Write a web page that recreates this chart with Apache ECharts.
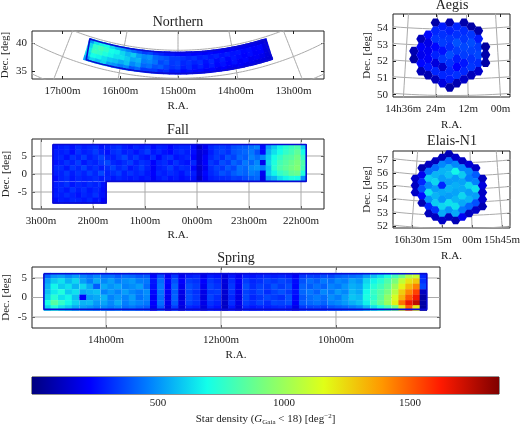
<!DOCTYPE html>
<html>
<head>
<meta charset="utf-8">
<script src="https://cdn.jsdelivr.net/npm/echarts@6/dist/echarts.min.js"></script>
<style>
  html, body { margin: 0; padding: 0; background: #fff; }
  #main { width: 520px; height: 424px; filter: blur(0.4px); }
</style>
</head>
<body>
<div id="main"></div>
<script>
var jetColors = ['#00007f', '#0000ff', '#007fff', '#13ffe9', '#7cff79', '#e0ff17', '#ff9700', '#ff1a00', '#7f0000'];

// Northern: one list per Dec row, values in the order of northRa
var northRa = [16.6,16.5,16.4,16.3,16.2,16.1,16.0,15.9,15.8,15.7,15.6,15.5,15.4,15.3,15.2,15.1,15.0,14.9,14.8,14.7,14.6,14.5,14.4,14.3,14.2,14.1,14.0,13.9,13.8,13.7,13.6,13.5,13.4];
var northDec = [44.3, 43.5, 42.7, 41.9, 41.1];
var northRows = [
  [500,640,680,700,620,560,520,470,420,380,340,360,310,290,260,270,250,240,250,230,240,220,240,220,230,210,230,200,210,200,200,180,170],
  [620,760,800,760,700,680,620,560,600,520,480,500,420,400,380,340,340,320,300,320,280,300,270,290,260,280,260,270,240,250,230,240,190],
  [660,780,760,720,680,640,640,600,540,560,460,480,440,360,390,330,350,300,320,290,310,260,300,250,280,240,270,250,230,250,220,230,180],
  [620,700,680,640,600,580,540,580,480,520,420,440,380,400,350,320,340,280,310,260,290,250,280,240,260,230,260,220,240,210,220,200,170],
  [520,620,580,620,520,500,450,480,380,420,340,340,340,290,310,270,280,240,260,240,250,220,240,210,230,210,210,220,200,200,180,180,160]
];
var northEdgeRa = [13.35, 16.65];
var northEdgeDec = [40.85, 44.6];

// Fall upper strip
var fallRa = [2.72,2.61,2.50,2.39,2.28,2.17,2.06,1.95,1.84,1.72,1.61,1.50,1.39,1.28,1.17,1.06,0.95,0.84,0.73,0.62,0.51,0.40,0.29,0.18,0.06,-0.05,-0.16,-0.27,-0.38,-0.49,-0.60,-0.71,-0.82,-0.93,-1.05,-1.16,-1.27,-1.38,-1.49,-1.60,-1.71,-1.82,-1.93,-2.05];
var fallDec = [7.5, 6.03, 4.56, 3.09, 1.62, 0.15, -1.32];
var fallRows = [
  [260,280,300,260,310,280,300,320,270,290,300,320,280,260,300,280,310,250,290,280,240,280,300,300,250,130,210,300,330,340,320,370,390,400,440,470,250,520,600,680,740,780,820,620],
  [280,280,300,250,320,280,300,340,290,260,310,330,280,300,260,300,340,270,300,260,240,290,310,280,250,160,190,280,330,350,320,380,400,420,450,380,240,560,640,700,760,800,860,700],
  [280,300,260,320,290,340,280,310,350,300,280,320,360,290,330,280,260,310,240,300,320,260,280,300,230,150,220,300,340,310,380,350,420,400,470,430,480,600,700,760,820,840,900,760],
  [260,280,320,290,340,270,310,290,330,360,300,280,310,340,280,320,300,230,290,310,270,320,280,260,300,160,230,330,300,370,340,410,380,450,420,480,200,620,720,800,840,880,920,820],
  [300,310,270,330,300,350,290,320,280,310,350,300,330,270,300,340,290,220,280,300,340,280,310,300,240,140,210,310,350,330,390,360,440,420,480,500,460,580,740,820,860,900,940,800],
  [280,290,330,280,320,290,340,300,360,290,310,340,280,320,290,310,270,230,300,280,310,290,260,310,280,150,240,300,330,380,350,400,430,410,460,440,210,600,680,760,800,860,880,720],
  [250,290,310,270,300,280,290,310,280,300,270,300,280,270,290,260,280,220,270,300,260,280,250,270,260,120,220,280,300,310,320,350,340,370,400,420,190,520,560,640,680,720,700,500]
];
// Fall lower block
var fallLowRa = [2.72,2.61,2.50,2.39,2.28,2.17,2.06,1.95,1.84,1.79];
var fallLowDec = [-3.0, -4.5, -6.0, -7.4];
var fallLowRows = [
  [280,290,320,270,300,280,310,290,320,260],
  [270,300,270,320,280,310,270,300,280,250],
  [280,280,310,290,260,300,280,320,270,260],
  [250,280,270,300,290,270,300,260,280,230]
];
var fallEdgeRa = [2.77, -2.1, -2.1, 1.75, 1.75, 2.77, 2.77];
var fallEdgeDec = [8.2, 8.2, -2.05, -2.05, -8.05, -8.05, 8.2];

// Spring
var springRa = [15.02,14.90,14.77,14.65,14.53,14.40,14.28,14.16,14.03,13.91,13.79,13.66,13.54,13.42,13.29,13.17,13.05,12.92,12.80,12.68,12.55,12.43,12.30,12.18,12.06,11.93,11.81,11.69,11.56,11.44,11.32,11.19,11.07,10.95,10.82,10.70,10.58,10.45,10.33,10.21,10.08,9.96,9.84,9.71,9.59,9.47,9.34,9.22,9.10,8.97,8.85,8.73,8.60,8.48];
var springDec = [5.6, 4.2, 2.8, 1.4, 0, -1.4, -2.7];
var springRows = [
  [420,500,520,480,520,470,440,480,430,440,400,430,420,390,400,240,370,220,330,210,280,300,200,280,260,170,270,210,280,260,290,300,280,300,280,220,330,350,340,370,360,400,420,430,450,520,580,640,720,800,900,1050,1100,300],
  [520,600,640,560,620,520,460,540,480,520,460,490,510,460,450,270,430,240,380,230,340,320,230,330,300,170,310,220,340,300,320,350,330,360,340,250,380,430,400,450,430,480,460,530,500,620,680,740,820,920,1080,1220,1280,320],
  [560,680,600,640,560,620,540,400,540,500,530,470,490,520,430,260,450,230,410,210,370,340,210,350,320,160,330,210,370,310,350,330,380,340,370,240,410,400,440,410,470,450,500,550,530,650,730,790,870,1000,1180,1320,1430,360],
  [580,660,720,600,640,540,560,580,470,510,470,520,480,450,490,240,440,220,400,190,360,320,190,330,340,150,320,200,350,320,360,310,350,380,340,260,420,450,410,480,450,510,480,570,540,690,770,830,910,1060,1270,1420,1550,120],
  [620,740,640,680,580,230,520,540,560,470,510,470,520,440,480,220,430,210,410,180,370,330,180,350,310,140,300,190,360,300,330,360,340,320,380,240,390,430,460,430,490,460,520,590,570,710,750,850,970,1130,1330,1510,1640,70],
  [700,840,760,680,610,560,570,510,530,480,540,460,500,470,450,230,430,200,390,190,350,320,190,320,290,130,310,190,340,310,350,310,360,350,370,220,400,420,440,410,460,480,510,550,580,670,780,870,990,1190,1460,1650,1740,70],
  [620,720,640,600,540,520,500,470,480,450,480,430,450,420,400,210,390,180,340,170,300,280,170,290,260,120,270,170,300,270,290,280,300,310,290,190,330,350,360,340,380,400,420,450,480,560,640,720,800,900,1200,1500,1200,60]
];
var springEdgeRa = [15.08, 8.42, 8.42, 15.08, 15.08];
var springEdgeDec = [6.1, 6.1, -3.05, -3.05, 6.1];

// Aegis: hexagons by column, from the top Dec of each column
var aegisRa = [14.535,14.491,14.447,14.402,14.358,14.314,14.270,14.226,14.181,14.137,14.093];
var aegisTop = [52.63,53.36,53.61,54.34,54.10,54.34,54.10,54.34,54.10,53.85,52.89];
var aegisCols = [
  [90,70],
  [110,220,200,240,100],
  [240,190,210,220,270,90],
  [70,300,330,240,290,170,300,110],
  [280,320,340,260,330,140,300,170],
  [80,290,330,310,370,320,300,280,70],
  [300,320,380,340,280,230,320,90],
  [80,310,330,360,340,270,300,130],
  [70,330,370,350,320,330,110],
  [80,280,340,360,310,140],
  [60,80,70]
];

// Elais-N1
var elaisRa = [16.472,16.416,16.360,16.304,16.248,16.192,16.136,16.080,16.024,15.968,15.912];
var elaisTop = [55.60,56.39,56.66,56.92,57.19,57.45,57.19,56.92,56.66,56.39,55.60];
var elaisCols = [
  [130,120,130],
  [90,200,300,380,250,100],
  [120,430,600,480,640,500,300,110],
  [110,430,560,620,520,560,600,330,120],
  [110,480,560,520,300,540,500,620,540,130],
  [100,430,560,580,520,560,520,640,500,120],
  [140,480,680,520,550,530,560,640,540,100],
  [120,480,600,530,540,620,540,450,210],
  [160,480,460,620,520,560,420,120],
  [130,400,470,640,520,380,130],
  [120,170,130,140,100]
];

// tick labels
var northTicks = [17, 16, 15, 14, 13];
var fallTicks = [3, 2, 1, 0, -1, -2];
var fallTickLabels = ['3h00m', '2h00m', '1h00m', '0h00m', '23h00m', '22h00m'];
var springTicks = [14, 12, 10];
var aegisTicks = [14.6, 14.4, 14.2, 14.0];
var aegisTickLabels = ['14h36m', '24m', '12m', '00m'];
var elaisTicks = [16.5, 16.25, 16, 15.75];
var elaisTickLabels = ['16h30m', '15m', '00m', '15h45m'];
var colorTicks = [500, 1000, 1500];

var FONT = '"Liberation Serif", serif';
var TXT = '#222';
var EDGE = '#0a0ad2';
var HEX = 'path://M0 50 L25 6.7 L75 6.7 L100 50 L75 93.3 L25 93.3 Z';

// curved sky grid for the three panels drawn in a conic projection
var northProj = { ra0: 15, dec0: 40, r0: 56.8, k: 10.65, dpx: 5.6, hpx: 57.75, apex: 90.5 };
var aegisProj = { ra0: 14.3, dec0: 50, r0: 48.4, k: 11.5, dpx: 16.6, hpx: 162, apex: 98.35 };
var elaisProj = { ra0: 16.125, dec0: 52, r0: 44, k: 11.9, dpx: 13.2, hpx: 120, apex: 95.8 };

function project(p, ra, dec) {
  var r = p.r0 + p.dec0 - dec;
  var t = (ra - p.ra0) * p.k * Math.PI / 180;
  return [p.ra0 + r * p.dpx * Math.sin(t) / p.hpx, p.apex - r * Math.cos(t)];
}

var grids = [], xAxes = [], yAxes = [], series = [], cellSeries = [];

function label(list, names) {
  return function (v) {
    var i = list.indexOf(v);
    return names ? names[i] : v + 'h00m';
  };
}

function addPanel(box, xr, yr, xt, yt, fmt, decGap, raGap) {
  var idx = grids.length;
  grids.push({ left: box[0], top: box[1], width: box[2], height: box[3], show: true, borderColor: '#222', borderWidth: 1, backgroundColor: 'transparent', outerBoundsMode: 'none' });
  var ax = { type: 'value', gridIndex: idx, axisLine: { show: false, onZero: false }, splitLine: { show: false } };
  var tick = function (list) { return { inside: true, length: 3, customValues: list, lineStyle: { color: '#222' } }; };
  xAxes.push(Object.assign({}, ax, {
    position: 'bottom', inverse: true, min: xr[0], max: xr[1], name: 'R.A.', nameLocation: 'middle', nameGap: raGap,
    nameTextStyle: { fontFamily: FONT, fontSize: 11, color: TXT },
    axisTick: tick(xt),
    axisLabel: { customValues: xt, formatter: fmt, fontFamily: FONT, fontSize: 11, color: TXT, margin: 7, hideOverlap: false }
  }));
  xAxes.push(Object.assign({}, ax, { position: 'top', inverse: true, min: xr[0], max: xr[1], axisTick: tick(xt), axisLabel: { show: false } }));
  yAxes.push(Object.assign({}, ax, {
    position: 'left', min: yr[0], max: yr[1], name: 'Dec. [deg]', nameLocation: 'middle', nameGap: decGap, nameMoveOverlap: false,
    nameTextStyle: { fontFamily: FONT, fontSize: 11, color: TXT },
    axisTick: tick(yt),
    axisLabel: { customValues: yt, fontFamily: FONT, fontSize: 11, color: TXT, margin: 5 }
  }));
  yAxes.push(Object.assign({}, ax, { position: 'right', min: yr[0], max: yr[1], axisTick: tick(yt), axisLabel: { show: false } }));
  return idx * 2;
}

function addCells(axis, data, symbol, size, rotate) {
  cellSeries.push(series.length);
  var s = { type: 'scatter', xAxisIndex: axis, yAxisIndex: axis, data: data, symbol: symbol, symbolSize: size, zlevel: 1, z: 3, silent: true, itemStyle: { opacity: 1 } };
  if (rotate) { s.symbolRotate = function (v) { return v[3]; }; }
  series.push(s);
}

function addLine(axis, pts, color, width, top) {
  series.push({ type: 'line', xAxisIndex: axis, yAxisIndex: axis, data: pts, showSymbol: false, silent: true, zlevel: top ? 1 : 0, z: top ? 4 : 1, lineStyle: { color: color, width: width } });
}

function addSkyGrid(axis, p, raList, decList, decSpan, raSpan) {
  raList.forEach(function (ra) {
    var pts = [];
    for (var d = decSpan[0]; d <= decSpan[1]; d += 0.5) { pts.push(project(p, ra, d)); }
    addLine(axis, pts, '#aaa', 1);
  });
  decList.forEach(function (d) {
    var pts = [];
    for (var r = raSpan[0]; r <= raSpan[1]; r += 0.05) { pts.push(project(p, r, d)); }
    addLine(axis, pts, '#aaa', 1);
  });
}

function addFlatGrid(axis, xList, yList, xr, yr) {
  xList.forEach(function (x) { addLine(axis, [[x, yr[0]], [x, yr[1]]], '#aaa', 1); });
  yList.forEach(function (y) { addLine(axis, [[xr[0], y], [xr[1], y]], '#aaa', 1); });
}

function tablePoints(ras, decs, rows) {
  var out = [];
  rows.forEach(function (row, j) {
    row.forEach(function (v, i) { out.push([ras[i], decs[j], v]); });
  });
  return out;
}

function columnPoints(ras, tops, cols, step) {
  var out = [];
  cols.forEach(function (col, i) {
    col.forEach(function (v, j) { out.push([ras[i], tops[i] - j * step, v]); });
  });
  return out;
}

function zipPoints(xs, ys) {
  return xs.map(function (x, i) { return [x, ys[i]]; });
}

// Northern
var axN = addPanel([32, 31, 292, 48], [12.47, 17.53], [33.57, 42.14], northTicks, [35, 40], label(northTicks), 21, 22);
addSkyGrid(axN, northProj, [12, 13, 14, 15, 16, 17, 18], [35, 40, 45, 50], [30, 55], [12, 18]);
var northPts = tablePoints(northRa, northDec, northRows).map(function (c) {
  var q = project(northProj, c[0], c[1]);
  return [q[0], q[1], c[2], -(c[0] - northProj.ra0) * northProj.k];
});
addCells(axN, northPts, 'rect', [6.4, 5], true);
var northEdge = [];
for (var ne = northEdgeRa[0]; ne <= northEdgeRa[1]; ne += 0.05) { northEdge.push(project(northProj, ne, northEdgeDec[0])); }
for (var nw = northEdgeRa[1]; nw >= northEdgeRa[0]; nw -= 0.05) { northEdge.push(project(northProj, nw, northEdgeDec[1])); }
northEdge.push(northEdge[0]);
addLine(axN, northEdge, EDGE, 1.6, true);

// Fall
var fallX = [-2.442, 3.173], fallY = [-9.72, 9.72];
var axF = addPanel([32, 139, 292, 70], fallX, fallY, fallTicks, [-5, 0, 5], label(fallTicks, fallTickLabels), 20, 21);
addFlatGrid(axF, fallTicks, [-5, 0, 5], fallX, fallY);
addCells(axF, tablePoints(fallRa, fallDec, fallRows), 'rect', [6.2, 5.8]);
addCells(axF, tablePoints(fallLowRa, fallLowDec, fallLowRows), 'rect', [6.2, 6]);
addLine(axF, zipPoints(fallEdgeRa, fallEdgeDec), EDGE, 1.6, true);

// Spring
var springX = [8.191, 15.287], springY = [-7.82, 7.82];
var axS = addPanel([32, 267, 408, 61], springX, springY, springTicks, [-5, 0, 5], label(springTicks), 20, 22);
addFlatGrid(axS, springTicks, [-5, 0, 5], springX, springY);
addCells(axS, tablePoints(springRa, springDec, springRows), 'rect', [7.4, 5.7]);
addLine(axS, zipPoints(springEdgeRa, springEdgeDec), EDGE, 1.6, true);

// Aegis
var axA = addPanel([393, 14, 117, 83], [13.942, 14.664], [49.86, 54.86], aegisTicks, [50, 51, 52, 53, 54], label(aegisTicks, aegisTickLabels), 20, 23);
addSkyGrid(axA, aegisProj, aegisTicks, [50, 51, 52, 53, 54], [48, 56], [13.8, 14.8]);
addCells(axA, columnPoints(aegisRa, aegisTop, aegisCols, 0.488), HEX, [9.6, 8.4]);

// Elais-N1
var axE = addPanel([393, 151, 117, 77], [15.683, 16.658], [51.85, 57.68], elaisTicks, [52, 53, 54, 55, 56, 57], label(elaisTicks, elaisTickLabels), 20, 23);
addSkyGrid(axE, elaisProj, elaisTicks, [52, 53, 54, 55, 56, 57], [50, 59], [15.4, 16.9]);
addCells(axE, columnPoints(elaisRa, elaisTop, elaisCols, 0.53), HEX, [9.4, 7.4]);

// colour bar
var barGrid = grids.length;
grids.push({ left: 32, top: 377, width: 467, height: 17, show: true, borderColor: '#222', borderWidth: 1, outerBoundsMode: 'none' });
xAxes.push({
  type: 'value', gridIndex: barGrid, min: 0, max: 1853, position: 'bottom', splitLine: { show: false }, axisLine: { show: false },
  axisTick: { inside: true, length: 17, customValues: colorTicks, lineStyle: { color: '#222', width: 0.6 } },
  axisLabel: { customValues: colorTicks, formatter: function (v) { return String(v); }, fontFamily: FONT, fontSize: 11, color: TXT, margin: 4 },
  name: '{a|Star density (}{i|G}{s|Gaia}{a| < 18) [deg}{u|−2}{a|]}', nameLocation: 'middle', nameGap: 19,
  nameTextStyle: {
    rich: {
      a: { fontFamily: FONT, fontSize: 11, color: TXT },
      i: { fontFamily: FONT, fontSize: 11, fontStyle: 'italic', color: TXT },
      s: { fontFamily: FONT, fontSize: 7, color: TXT, verticalAlign: 'bottom', lineHeight: 13 },
      u: { fontFamily: FONT, fontSize: 7, color: TXT, verticalAlign: 'top', lineHeight: 13 }
    }
  }
});
yAxes.push({ type: 'category', gridIndex: barGrid, data: ['density'], show: false });
var gradStops = jetColors.map(function (c, i) { return { offset: i / (jetColors.length - 1), color: c }; });
series.push({
  type: 'bar', xAxisIndex: xAxes.length - 1, yAxisIndex: yAxes.length - 1, data: [1853], barWidth: '100%', silent: true, z: 0,
  itemStyle: { color: new echarts.graphic.LinearGradient(0, 0, 1, 0, gradStops) }
});

function panelTitle(text, x, y) {
  return { text: text, left: x, top: y, textAlign: 'center', padding: 0, textStyle: { fontFamily: FONT, fontSize: 14, fontWeight: 'normal', color: TXT } };
}

var chart = echarts.init(document.getElementById('main'), null, { renderer: 'canvas' });
chart.setOption({
  animation: false,
  backgroundColor: '#fff',
  title: [
    panelTitle('Northern', 178, 15),
    panelTitle('Fall', 178, 123),
    panelTitle('Spring', 236, 251),
    panelTitle('Aegis', 452, -2),
    panelTitle('Elais-N1', 452, 134)
  ],
  grid: grids,
  xAxis: xAxes,
  yAxis: yAxes,
  visualMap: { show: false, type: 'continuous', min: 0, max: 1853, dimension: 2, seriesIndex: cellSeries, inRange: { color: jetColors } },
  series: series
});
</script>
</body>
</html>
